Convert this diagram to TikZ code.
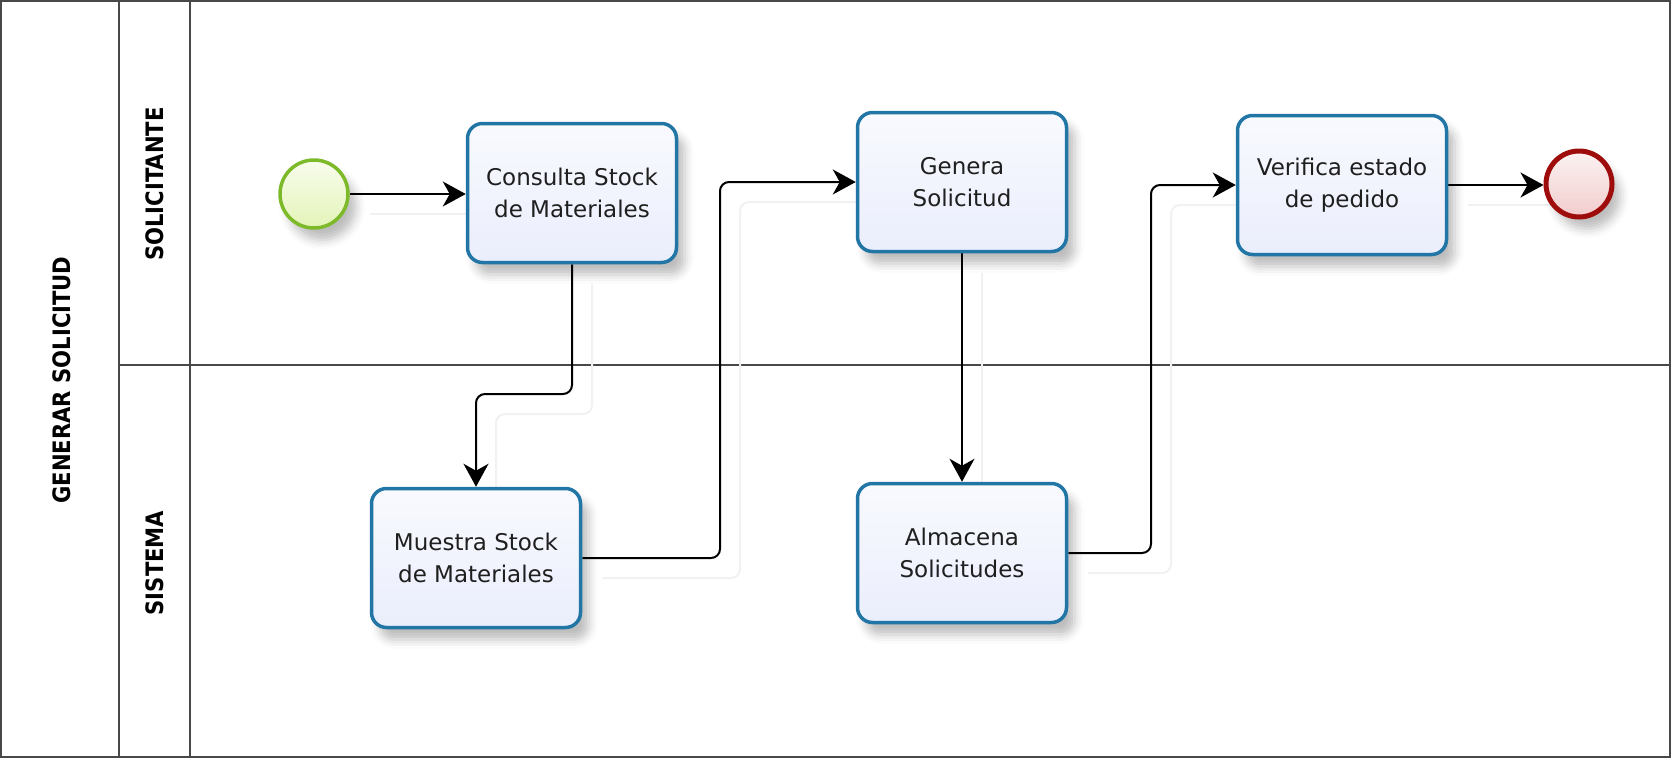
\documentclass[tikz,border=0pt]{standalone}
\usepackage{fontspec}
\setmainfont{DejaVu Sans}
\usetikzlibrary{arrows.meta,shadows.blur,backgrounds}
\definecolor{taskblue}{RGB}{34,118,166}
\definecolor{taskfill}{RGB}{234,238,252}
\definecolor{startgreen}{RGB}{124,186,42}
\definecolor{startfill}{RGB}{228,244,184}
\definecolor{endred}{RGB}{158,12,12}
\definecolor{endfill}{RGB}{242,204,204}
\definecolor{framegray}{RGB}{72,72,72}
\definecolor{ghost}{RGB}{241,241,241}

\begin{document}
\begin{tikzpicture}[x=1pt,y=-1pt,
  softshadow/.style={blur shadow={shadow xshift=8pt, shadow yshift=-12pt,
      shadow blur radius=9pt, shadow opacity=26}},
  task/.style={draw=taskblue, line width=3.5pt, rounded corners=15pt,
      minimum width=209pt, minimum height=139pt, inner sep=0pt,
      top color=white!70!taskfill, bottom color=taskfill, align=center,
      font=\fontsize{23}{32}\selectfont, text=black!88, softshadow},
  startev/.style={circle, draw=startgreen, line width=3.5pt, minimum size=68pt,
      inner sep=0pt, top color=white!75!startfill, bottom color=startfill, softshadow},
  endev/.style={circle, draw=endred, line width=5pt, minimum size=66pt,
      inner sep=0pt, top color=white!75!endfill, bottom color=endfill, softshadow},
  frame/.style={draw=framegray, line width=2pt},
  lanelabel/.style={rotate=90, font=\fontsize{24}{28}\selectfont\bfseries, text=black},
  flow/.style={line width=2pt, rounded corners=9pt,
      -{Stealth[length=23pt,width=25pt,inset=7pt]},
      preaction={draw=ghost, -, line width=2pt, transform canvas={shift={(20pt,-20pt)}}}}
]
\useasboundingbox (0,0) rectangle (1671,758);

% tasks and events
\node[startev] (start) at (314,194) {};
\node[task] (consulta) at (572,193) {Consulta Stock\\de Materiales};
\node[task] (genera) at (962,182) {Genera\\Solicitud};
\node[task] (verifica) at (1342,185) {Verifica estado\\de pedido};
\node[endev] (fin) at (1579,184) {};
\node[task] (muestra) at (476,558) {Muestra Stock\\de Materiales};
\node[task] (almacena) at (962,553) {Almacena\\Solicitudes};

% pool and lane headers
\node[lanelabel] (pool) at (62,380) {\scalebox{0.88}[1]{GENERAR SOLICITUD}};
\node[lanelabel] (lane1) at (155,184) {\scalebox{0.88}[1]{SOLICITANTE}};
\node[lanelabel] (lane2) at (155,563) {\scalebox{0.88}[1]{SISTEMA}};

% bend points of the sequence flows
\coordinate (k1) at (720,370);
\coordinate (k2) at (1151,370);
\coordinate (k3) at (530,394);

\begin{scope}[on background layer]
  % pool frame and lane separators
  \draw[frame] (1,1) rectangle (1670,757);
  \draw[frame] (119,1) -- (119,757);
  \draw[frame] (190,1) -- (190,757);
  \draw[frame] (119,365) -- (1670,365);

  % sequence flows
  \draw[flow] (start.east) -- (start.east -| consulta.west);
  \draw[flow] (consulta.south) |- (k3) -| (muestra.north);
  \draw[flow] (muestra.east) -| (k1) |- (genera.west);
  \draw[flow] (genera.south) -- (almacena.north);
  \draw[flow] (almacena.east) -| (k2) |- (verifica.west);
  \draw[flow] (verifica.east) -- (verifica.east -| fin.west);
\end{scope}
\end{tikzpicture}
\end{document}
